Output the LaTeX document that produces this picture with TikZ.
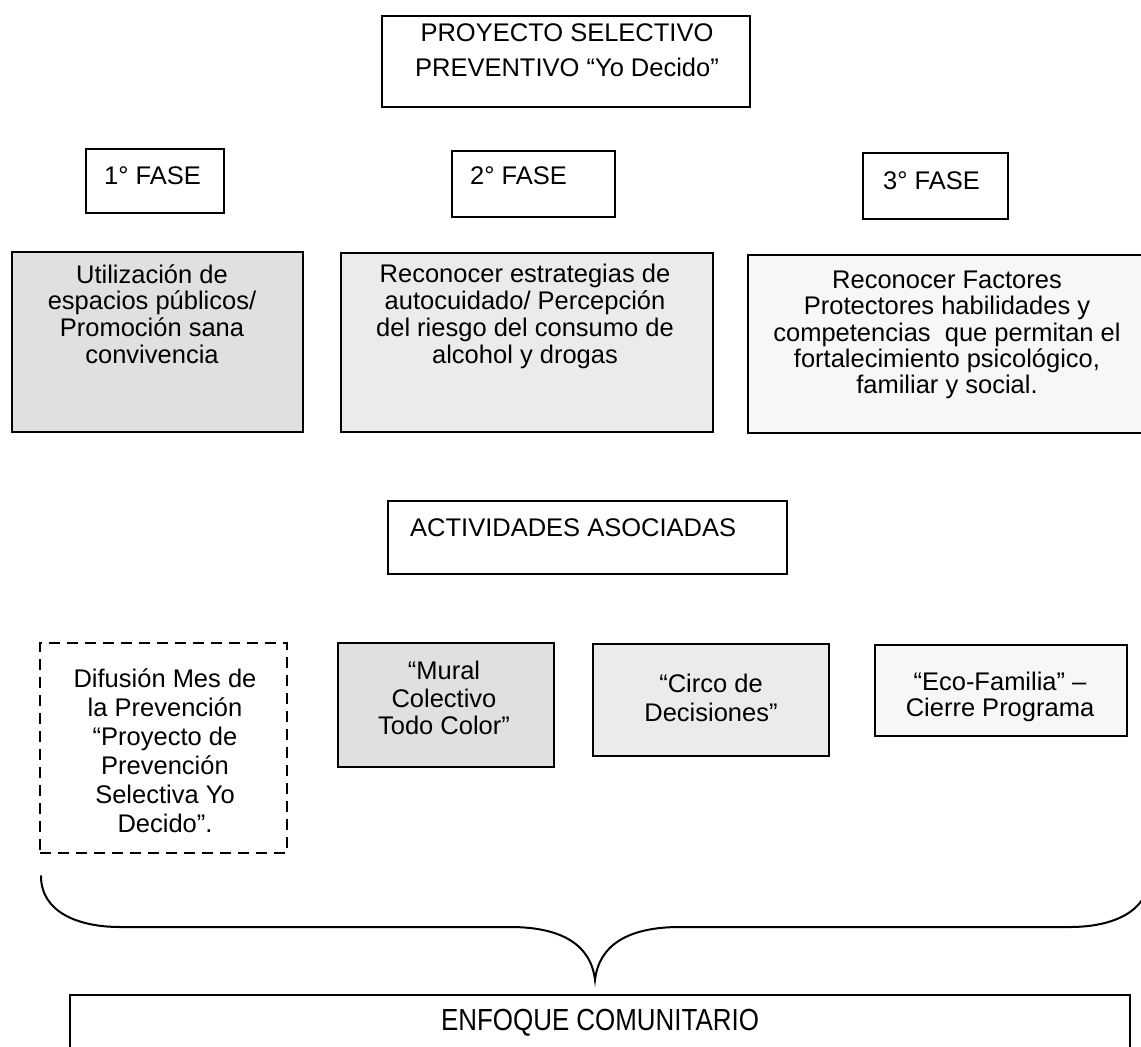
\documentclass[tikz,border=0pt]{standalone}
\usepackage{fontspec}
\setmainfont{Liberation Sans}
\newfontfamily\narrowfont[FakeStretch=0.85]{Liberation Sans}
\begin{document}
\begin{tikzpicture}[x=1pt,y=-1pt,
  frame/.style={draw=black, line width=2pt, rectangle, inner sep=0pt},
  dashframe/.style={draw=black, line width=2pt, rectangle, inner sep=0pt, dash pattern=on 11pt off 7pt},
  txt/.style={inner sep=0pt, align=center, font=\fontsize{25.5pt}{#1pt}\selectfont},
  txt/.default=27,
  lbl/.style={inner sep=0pt, anchor=west, font=\fontsize{25.5pt}{27pt}\selectfont},
  shadeA/.style={fill=black!12},
  shadeB/.style={fill=black!8},
  shadeC/.style={fill=black!3},
  bracest/.style={draw=black, line width=2pt, line cap=round}
]
\useasboundingbox (0,0) rectangle (1141,1047);
\clip (0,0) rectangle (1141,1047);

% title
\node[frame, minimum width=368pt, minimum height=91pt] (title) at (566,61.5) {};
\node[txt=35] (titleT) at (567,50) {PROYECTO SELECTIVO\\PREVENTIVO “Yo Decido”};

% phase labels
\node[frame, minimum width=138pt, minimum height=64pt] (f1) at (155,181) {};
\node[lbl] (f1T) at (104,176) {1° FASE};
\node[frame, minimum width=163pt, minimum height=66pt] (f2) at (533.5,184) {};
\node[lbl] (f2T) at (470,176) {2° FASE};
\node[frame, minimum width=145pt, minimum height=66pt] (f3) at (935.5,186) {};
\node[lbl] (f3T) at (883,181) {3° FASE};

% phase contents
\node[frame, shadeA, minimum width=291pt, minimum height=180pt] (p1) at (157.5,342) {};
\node[txt=26.7] (p1T) at (152,314) {Utilización de\\espacios públicos/\\Promoción sana\\convivencia};
\node[frame, shadeB, minimum width=372pt, minimum height=179pt] (p2) at (527,342.5) {};
\node[txt=27] (p2T) at (525,316) {Reconocer estrategias de\\autocuidado/ Percepción\\del riesgo del consumo de\\alcohol y drogas};
\node[frame, shadeC, minimum width=412pt, minimum height=178pt] (p3) at (954,344) {};
\node[txt=26.3] (p3T) at (947,335) {Reconocer Factores\\Protectores habilidades y\\competencias\ \ que permitan el\\fortalecimiento psicológico,\\familiar y social.};

% activities header
\node[frame, minimum width=399pt, minimum height=73pt] (act) at (587.5,537.5) {};
\node[lbl] (actT) at (410,528) {ACTIVIDADES ASOCIADAS};

% activities
\node[dashframe, minimum width=247pt, minimum height=210pt] (a1) at (163.5,748) {};
\node[txt=29] (a1T) at (165,751) {Difusión Mes de\\la Prevención\\“Proyecto de\\Prevención\\Selectiva Yo\\Decido”.};
\node[frame, shadeA, minimum width=216pt, minimum height=124pt] (a2) at (446,705) {};
\node[txt=27.5] (a2T) at (444,698) {“Mural\\Colectivo\\Todo Color”};
\node[frame, shadeB, minimum width=236pt, minimum height=112pt] (a3) at (711,700) {};
\node[txt=29] (a3T) at (711,698) {“Circo de\\Decisiones”};
\node[frame, shadeC, minimum width=252pt, minimum height=91pt] (a4) at (1001,690.5) {};
\node[txt=26] (a4T) at (1000,697) {“Eco-Familia” –\\Cierre Programa};

% community approach
\node[frame, minimum width=1060pt, minimum height=105pt] (enf) at (600,1047.5) {};
\node[inner sep=0pt, font=\narrowfont\fontsize{30.5pt}{32pt}\selectfont] (enfT) at (600,1023) {ENFOQUE COMUNITARIO};

% brace
\coordinate (bL) at (41,876);
\coordinate (bR) at (1149,876);
\coordinate (tip) at (595,980);
\draw[bracest] (bL) .. controls (41,912) and (78,927) .. (120,927)
  -- (510,927) .. controls (562,927) and (591,945) .. (tip)
  .. controls (599,945) and (628,927) .. (680,927)
  -- (1070,927) .. controls (1112,927) and (1149,912) .. (bR);
\end{tikzpicture}
\end{document}
